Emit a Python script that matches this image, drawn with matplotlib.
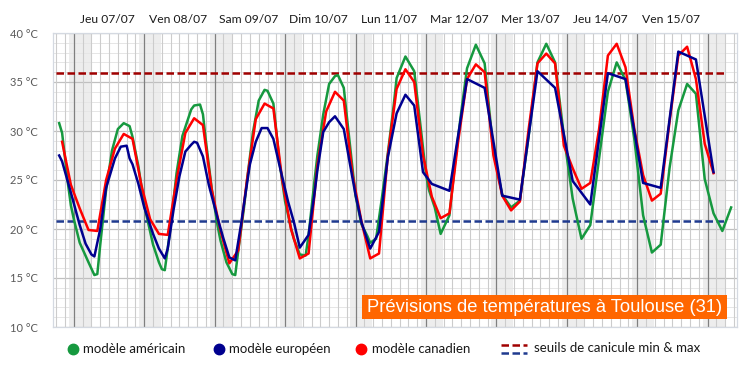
import matplotlib.pyplot as plt
from matplotlib.lines import Line2D
from matplotlib.patches import Rectangle

# hours counted from Thu 07/07 00:00
us_hours = [-5, -4, -2, -1, 0, 2, 5, 7, 8, 9, 11, 13, 15, 17, 19, 20, 22, 24, 27, 29,
            30, 31, 33, 35, 37, 40, 41, 43, 44, 45, 47, 49, 50, 52, 54, 55, 56, 58, 59, 61,
            63, 65, 66, 68, 69, 70, 72, 74, 75, 77, 79, 80, 82, 83, 85, 87, 89, 90, 92, 93,
            95, 96, 98, 100, 101, 103, 105, 107, 109, 110, 113, 116, 118, 120, 121, 123, 125, 128, 130, 132,
            134, 137, 140, 143, 146, 149, 152, 155, 158, 161, 164, 167, 170, 173, 176, 179, 182, 185, 188, 191,
            194, 197, 200, 203, 206, 209, 212, 215, 218, 221, 224]
us_temps = [30.8, 29.8, 24.6, 22.4, 21.0, 18.6, 16.6, 15.3, 15.4, 18.4, 24.0, 28.0, 30.2, 30.8, 30.5, 29.4, 26.4, 22.4, 18.4, 16.6,
            15.9, 15.8, 20.3, 25.7, 29.5, 32.2, 32.6, 32.7, 31.7, 29.0, 24.1, 20.3, 18.8, 16.6, 15.4, 15.3, 17.7, 22.2, 24.9, 29.8,
            33.1, 34.2, 34.1, 32.8, 30.0, 27.0, 22.8, 20.1, 19.0, 17.4, 17.3, 19.4, 24.9, 27.5, 31.7, 34.8, 35.6, 35.7, 34.4, 31.6,
            26.1, 23.4, 20.5, 19.3, 18.6, 19.0, 23.2, 27.7, 32.6, 35.4, 37.6, 36.1, 30.9, 25.6, 24.0, 22.2, 19.5, 21.4, 27.0, 31.9,
            36.4, 38.8, 36.9, 27.9, 23.5, 22.2, 22.9, 29.5, 37.0, 38.9, 37.0, 29.5, 23.1, 19.0, 20.4, 27.2, 34.0, 37.0, 35.2, 29.2,
            21.4, 17.6, 18.4, 26.2, 32.1, 34.8, 33.8, 25.1, 21.6, 19.8, 22.2]

eu_hours = [-5, -4, -1, 2, 4, 6, 7, 9, 11, 14, 16, 18, 19, 20, 22, 24, 27, 29, 31, 32,
            34, 36, 38, 40, 41, 42, 44, 46, 49, 51, 53, 55, 57, 58, 60, 62, 64, 66, 68, 70,
            73, 75, 77, 80, 82, 83, 85, 87, 89, 92, 94, 96, 98, 101, 104, 107, 110, 113, 116, 119,
            122, 128, 134, 140, 146, 152, 158, 164, 170, 176, 182, 188, 194, 200, 206, 212, 218]
eu_temps = [27.5, 26.9, 23.7, 20.4, 18.5, 17.4, 17.2, 20.0, 24.2, 27.2, 28.4, 28.5, 27.2, 26.6, 24.6, 22.2, 19.5, 18.0, 17.0, 18.0,
            22.0, 25.4, 27.9, 28.6, 28.9, 28.8, 27.4, 24.5, 21.1, 19.0, 17.1, 16.8, 20.5, 22.6, 26.6, 28.9, 30.3, 30.3, 29.2, 26.6,
            22.8, 20.7, 18.1, 19.4, 23.6, 26.0, 29.9, 30.9, 31.5, 30.2, 26.8, 23.5, 20.7, 18.0, 19.7, 27.3, 31.8, 33.7, 32.6, 25.8,
            24.6, 23.9, 35.3, 34.4, 23.4, 23.0, 36.1, 34.4, 24.9, 22.5, 35.9, 35.3, 24.7, 24.2, 38.1, 37.3, 25.8]

ca_hours = list(range(-4, 219, 3))
ca_temps = [28.9, 24.5, 22.1, 19.9, 19.8, 25.0, 28.2, 29.7, 29.2, 24.5, 21.0, 19.5, 19.4, 25.0, 29.8, 31.3, 30.6, 24.0, 19.8, 16.5,
            17.8, 25.0, 31.2, 32.8, 32.3, 25.0, 20.0, 17.0, 17.5, 26.5, 32.0, 34.0, 33.1, 25.5, 20.8, 17.0, 17.5, 27.5, 34.3, 36.3,
            35.0, 27.5, 23.3, 21.1, 21.6, 29.0, 35.3, 36.8, 36.0, 27.5, 23.4, 21.9, 22.8, 30.2, 36.9, 37.9, 36.9, 28.5, 26.2, 24.1,
            24.7, 30.2, 37.7, 38.9, 36.5, 30.2, 25.5, 22.9, 23.6, 30.9, 37.7, 38.6, 35.3, 28.7, 25.7]

heat_min = 20.8
heat_max = 35.9
heat_hours = [-6, 222]

day_labels = ["Jeu 07/07", "Ven 08/07", "Sam 09/07", "Dim 10/07", "Lun 11/07",
              "Mar 12/07", "Mer 13/07", "Jeu 14/07", "Ven 15/07"]
y_ticks = [10, 15, 20, 25, 30, 35, 40]

GREEN = '#16993f'
BLUE = '#00008f'
RED = '#ff0000'
W, H = 740, 369


def fx(px):
    return px / W


def fy(py):
    return 1 - py / H


fig = plt.figure(figsize=(7.4, 3.69), dpi=100)
ax = fig.add_axes([fx(53.3), fy(327), fx(737) - fx(53.3), fy(33) - fy(327)])

# night shading
for k in range(10):
    ax.axvspan(24 * k - 1.75, 24 * k + 5.75, color='#ededed', lw=0, zorder=0)

# grid
for t in range(10, 41):
    if t % 5 == 0:
        ax.axhline(t, color='#c0c0c0', lw=0.9, zorder=1)
    else:
        ax.axhline(t, color='#e6e6e6', lw=0.7, zorder=1)
for h in range(-6, 226, 3):
    if h % 24 == 0:
        ax.axvline(h, color='#7f7f7f', lw=0.9, zorder=1.5)
    else:
        ax.axvline(h, color='#cccccc', lw=0.8, zorder=1.2)

dash = (0, (3, 1.4))
ax.plot(heat_hours, [heat_max, heat_max], color='#a00000', lw=1.8, ls=dash, zorder=2)
ax.plot(heat_hours, [heat_min, heat_min], color='#1f3a8f', lw=1.8, ls=dash, zorder=2)

ax.plot(us_hours, us_temps, color=GREEN, lw=1.8, zorder=3)
ax.plot(ca_hours, ca_temps, color=RED, lw=1.8, zorder=4)
ax.plot(eu_hours, eu_temps, color=BLUE, lw=1.8, zorder=5)

ax.set_xlim(-7, 226)
ax.set_ylim(10, 40)

ax.set_yticks(y_ticks)
ax.set_yticklabels([f"{t} °C" for t in y_ticks], color='#595959', fontsize=8, family='Lato')
ax.tick_params(axis='y', length=0, pad=11)

ax.xaxis.tick_top()
ax.set_xticks([24 * k + 11.5 for k in range(len(day_labels))])
ax.set_xticklabels(day_labels, fontsize=8.7, family='Lato', color='#1a1a1a')
ax.tick_params(axis='x', length=0, pad=6)

for s in ax.spines.values():
    s.set_color('#d4d9e1')
    s.set_linewidth(0.9)

# title box
ax.add_patch(Rectangle((fx(362), fy(319)), fx(727) - fx(362), fy(295) - fy(319),
                       transform=fig.transFigure, fc='#ff6600', ec='none', zorder=10, clip_on=False))
ax.text(fx(544.5), fy(307.5), "Prévisions de températures à Toulouse (31)", transform=fig.transFigure,
        ha='center', va='center', color='white', fontsize=13.2, family='Liberation Sans', zorder=11)

# legend
leg_y = 349
for xm, xt, color, label in [(73, 83, GREEN, "modèle américain"),
                             (219, 229, BLUE, "modèle européen"),
                             (361, 372, RED, "modèle canadien")]:
    fig.add_artist(Line2D([fx(xm)], [fy(leg_y)], marker='o', ms=7.5, color=color, ls='none'))
    fig.text(fx(xt), fy(leg_y), label, va='center', ha='left', fontsize=9.5, family='Lato', color='#1a1a1a')
fig.add_artist(Line2D([fx(501), fx(527)], [fy(leg_y - 4.5)] * 2, color='#a00000', lw=1.8, ls=dash))
fig.add_artist(Line2D([fx(501), fx(527)], [fy(leg_y + 4)] * 2, color='#1f3a8f', lw=1.8, ls=dash))
fig.text(fx(534), fy(leg_y - 1), "seuils de canicule min & max", va='center', ha='left',
         fontsize=9.5, family='Lato', color='#1a1a1a')

fig.savefig("out.png", dpi=100)
